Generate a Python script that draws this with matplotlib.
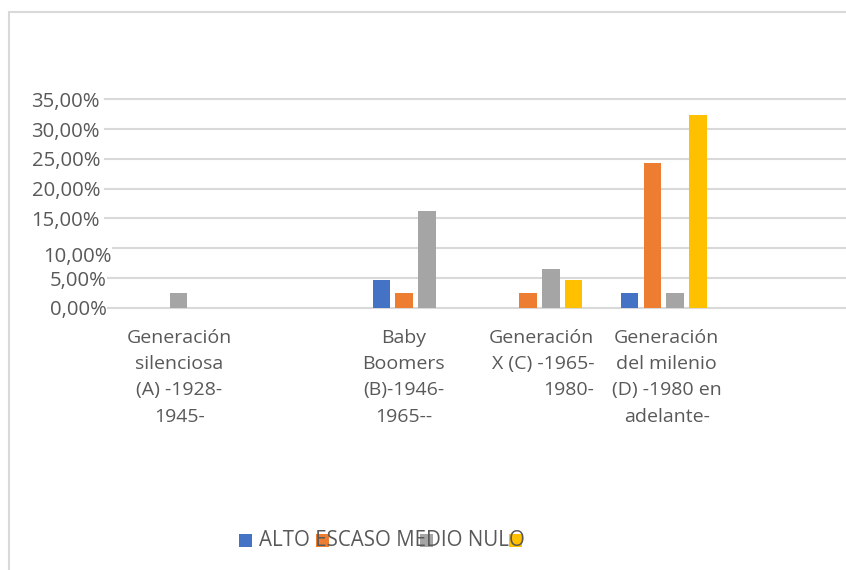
import numpy as np
import matplotlib
matplotlib.use("Agg")
import matplotlib.pyplot as plt
from matplotlib.patches import Rectangle
from matplotlib.transforms import ScaledTranslation

# Data (percentages); blank categories keep the spacing of the source sheet
categories = [
    "Generación\nsilenciosa\n(A) -1928-\n1945-",
    "",
    "Baby\nBoomers\n(B)-1946-\n1965--",
    "Generación\nX (C) -1965-\n1980-",
    "Generación\ndel milenio\n(D) -1980 en\nadelante-",
    "",
]
series_names = ["ALTO", "ESCASO", "MEDIO", "NULO"]
alto = [np.nan, np.nan, 4.7, np.nan, 2.5, np.nan]
escaso = [np.nan, np.nan, 2.5, 2.5, 24.3, np.nan]
medio = [2.5, np.nan, 16.3, 6.5, 2.5, np.nan]
nulo = [np.nan, np.nan, np.nan, 4.7, 32.3, np.nan]
y_ticks = [0, 5, 10, 15, 20, 25, 30, 35]
y_tick_labels = ["0,00%", "5,00%", "10,00%", "15,00%", "20,00%", "25,00%", "30,00%", "35,00%"]

colors = ["#4472C4", "#ED7D31", "#A5A5A5", "#FFC000"]
text_color = "#595959"
grid_color = "#D9D9D9"
FS = 14

W, H = 846, 570
fig = plt.figure(figsize=(W / 100, H / 100), dpi=100)
plt.rcParams["font.family"] = ["Open Sans", "DejaVu Sans"]

# chart-area border (right and bottom edges fall outside the canvas)
fig.add_artist(Rectangle((8.5 / W, -0.1), 1.2, 1.1 - 12 / H, transform=fig.transFigure,
                         fill=False, ec=grid_color, lw=1.5))

left, right, top, bottom = 105, 850, 99.3, 307.7
ax = fig.add_axes([left / W, 1 - bottom / H, (right - left) / W, (bottom - top) / H])

x = np.arange(len(categories))
width = 0.141
step = 0.183
for i, (vals, c) in enumerate(zip([alto, escaso, medio, nulo], colors)):
    ax.bar(x + (i - 1.5) * step, vals, width=width, color=c, zorder=3)

ax.set_xlim(-0.5, len(categories) - 0.5)
ax.set_ylim(0, 35)
for s in ax.spines.values():
    s.set_visible(False)

ax.set_yticks(y_ticks)
ax.set_yticklabels(y_tick_labels)
ax.set_xticks(x)
ax.set_xticklabels(categories)
ax.tick_params(axis="both", length=0, labelcolor=text_color)
ax.tick_params(axis="y", pad=3.6, labelsize=14.6)
ax.tick_params(axis="x", pad=15, labelsize=FS)
ax.grid(axis="y", color=grid_color, lw=1.5, zorder=0)
ax.set_axisbelow(True)
for gl in ax.yaxis.get_gridlines():
    gl.set_clip_on(False)

# Small per-label nudges of the value labels (px right, px down)
y_nudge = {0: (7, 0), 5: (7, 1), 10: (12, 6)}
for val, lab in zip(y_ticks, ax.get_yticklabels()):
    if val in y_nudge:
        dx, dy = y_nudge[val]
        lab.set_transform(lab.get_transform() + ScaledTranslation(dx / 100, -dy / 100, fig.dpi_scale_trans))
        lab.set_bbox(dict(fc="white", ec="none", pad=0))

# Category label nudges and alignment
x_nudge = [12, 0, -12, 2, 3, 0]
for i, lab in enumerate(ax.get_xticklabels()):
    lab.set_linespacing(1.6)
    lab.set_transform(lab.get_transform() + ScaledTranslation(x_nudge[i] / 100, 0, fig.dpi_scale_trans))
    if i == 3:
        lab.set_multialignment("right")
    else:
        lab.set_multialignment("center")

# Legend: colour keys and a single run of series names
key_x = [239.3, 315.7, 420, 509]
for kx, c in zip(key_x, colors):
    fig.add_artist(Rectangle((kx / W, 1 - 547 / H), 13 / W, 13 / H, transform=fig.transFigure,
                             fc=c, ec="none", zorder=1))
fig.text(259 / W, 1 - 540 / H, " ".join(series_names), fontsize=14.8, color=text_color,
         ha="left", va="center", zorder=2)

fig.savefig("out.png", dpi=100)
